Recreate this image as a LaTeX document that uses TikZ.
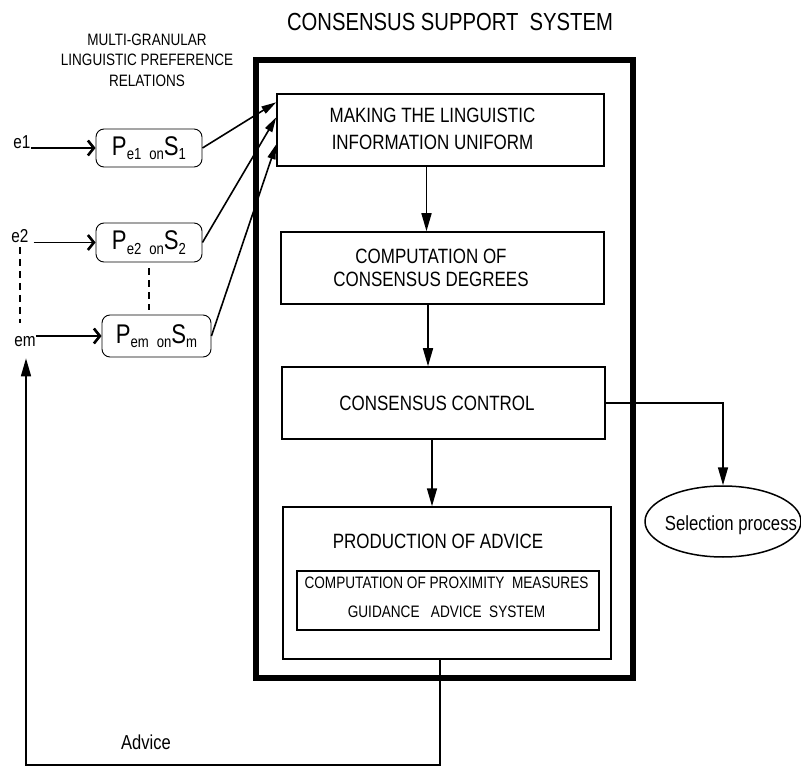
\documentclass[tikz,border=0pt]{standalone}
\usepackage{fontspec}
\setmainfont{Liberation Sans}[FakeStretch=0.82]
\usetikzlibrary{arrows.meta,calc,shapes.geometric}

\newcommand{\fsz}[2]{\fontsize{#1}{#2}\selectfont}
% preference relation label: P_{e} on S_{i}
\newcommand{\prel}[2]{{\fsz{27}{27}P}\raisebox{-4.5pt}{\fsz{16}{16}#1\hspace{8pt}on}{\fsz{27}{27}S}\raisebox{-4.5pt}{\fsz{16}{16}#2}}

\begin{document}
\begin{tikzpicture}[x=1pt,y=-1pt,
  box/.style={draw, line width=1.5pt, inner sep=0pt},
  pbox/.style={draw, line width=0.9pt, rounded corners=8pt, inner sep=0pt},
  lbl/.style={inner sep=0pt, align=center},
  boxtext/.style={lbl, font=\fsz{20.7}{27}},
  conn/.style={line width=1.6pt},
  tri/.style={conn, -{Triangle[length=18pt,width=10pt]}},
  slimtri/.style={conn, -{Triangle[length=15pt,width=8pt]}},
  barb/.style={conn, -{Straight Barb[length=6pt,width=15pt,line width=2.6pt]}},
  dashline/.style={line width=1.3pt, dash pattern=on 7pt off 5pt}]

\useasboundingbox (0,0) rectangle (801,767);

% titles
\node[lbl, font=\fsz{24.7}{24.7}] (title) at (450,22) {CONSENSUS SUPPORT\ \ SYSTEM};
\node[lbl, font=\fsz{16.5}{20.5}] (mglabel) at (147,60) {MULTI-GRANULAR\\LINGUISTIC PREFERENCE\\RELATIONS};

% consensus support system frame
\node[draw, line width=5.5pt, minimum width=377, minimum height=618, inner sep=0pt] (css) at (444.5,369) {};

% process boxes
\node[box, minimum width=327, minimum height=72] (mk) at (440.5,130) {};
\node[boxtext] (mktext) at (432.5,128.5) {MAKING THE LINGUISTIC\\INFORMATION UNIFORM};
\node[box, minimum width=323, minimum height=72] (cd) at (442.5,268) {};
\node[boxtext, font=\fsz{20.7}{23}] (cdtext) at (431,267.5) {COMPUTATION OF\\CONSENSUS DEGREES};
\node[box, minimum width=323, minimum height=72] (cc) at (443.5,403) {};
\node[boxtext] (cctext) at (437,403) {CONSENSUS CONTROL};
\node[box, minimum width=328, minimum height=152] (pa) at (447,583) {};
\node[boxtext] (patext) at (438,541) {PRODUCTION OF ADVICE};
\node[box, line width=1.3pt, minimum width=302, minimum height=59] (pm) at (448,600.5) {};
\node[lbl, font=\fsz{16.6}{29}] (pmtext) at (446.5,597) {COMPUTATION OF PROXIMITY\ \ MEASURES\\GUIDANCE\ \ \ ADVICE\ \ SYSTEM};

% selection process
\node[draw, ellipse, line width=1.5pt, minimum width=156, minimum height=71, inner sep=0pt] (sel) at (723,521.5) {};
\node[lbl, font=\fsz{20.4}{20.4}] (seltext) at (731,525) {Selection process};

% experts and their preference relations
\node[lbl, font=\fsz{18.7}{18.7}] (e1) at (22,142) {e1};
\node[lbl, font=\fsz{18.7}{18.7}] (e2) at (20,236) {e2};
\node[lbl, font=\fsz{18.7}{18.7}] (em) at (25,342) {em};
\node[pbox, minimum width=106, minimum height=38] (pe1) at (149,148) {\prel{e1}{1}};
\node[pbox, minimum width=106, minimum height=39] (pe2) at (149,242.5) {\prel{e2}{2}};
\node[pbox, minimum width=109, minimum height=42] (pem) at (156.5,336) {\prel{em}{m}};

\draw[barb] (e1.east |- pe1.west) -- (pe1.west);
\draw[barb] ([xshift=5pt]e2.east |- pe2.west) -- (pe2.west);
\draw[barb] (em.east |- pem.west) -- (pem.west);

\draw[dashline, shorten <=4pt, shorten >=14pt] (e2.south) -- (e2.south |- em.north);
\draw[dashline, shorten <=6pt, shorten >=5pt] (pe2.south) -- (pe2.south |- pem.north);

% relations into the uniform representation step
\draw[slimtri] (pe1.east) -- ($(mk.north west)+(0,9)$);
\draw[slimtri] (pe2.east) -- ($(mk.north west)+(0,24)$);
\draw[slimtri] (pem.east) -- ($(mk.north west)+(0,51)$);

% main flow
\coordinate (a1) at ($(mk.south)+(-14,0)$);
\coordinate (a2) at ($(cd.south)+(-14.5,0)$);
\coordinate (a3) at ($(cc.south)+(-11.5,0)$);
\draw[tri] (a1) -- (a1 |- cd.north);
\draw[tri] (a2) -- (a2 |- cc.north);
\draw[tri] (a3) -- (a3 |- pa.north);

\draw[tri] (cc.east) -| (sel.north);

% advice feedback loop
\coordinate (fb1) at (440,765);
\coordinate (fb2) at (26,765);
\draw[tri] (pa.south -| fb1) -- (fb1) -- (fb2) -- ($(fb2 |- em.south)+(0,11)$);
\node[lbl, font=\fsz{20.2}{20.2}] (advice) at (146,742) {Advice};

\end{tikzpicture}
\end{document}
